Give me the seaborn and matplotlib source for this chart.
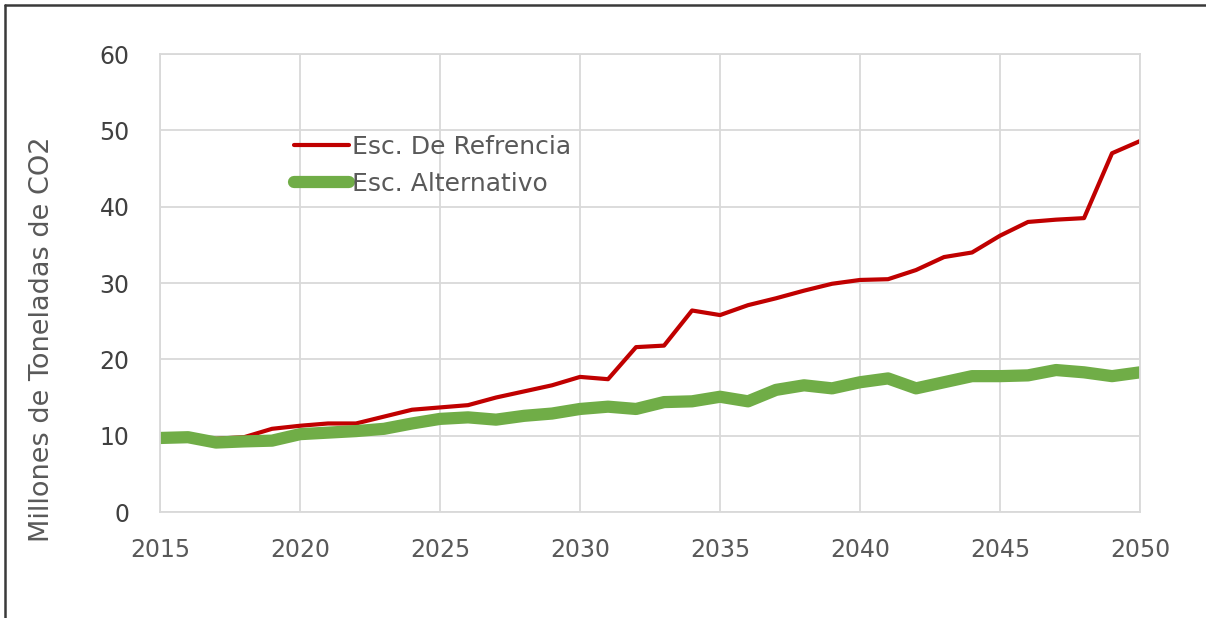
import matplotlib
matplotlib.use("Agg")
import matplotlib.pyplot as plt
import matplotlib.lines as mlines
import numpy as np
import pandas as pd
import seaborn as sns

#%%
# valores (millones de toneladas de CO2)
years = list(range(2015, 2051))
ref_vals = [9.7, 9.7, 9.6, 9.8, 10.9, 11.3, 11.6, 11.6, 12.5, 13.4,
            13.7, 14.0, 15.0, 15.8, 16.6, 17.7, 17.4, 21.6, 21.8, 26.4,
            25.8, 27.1, 28.0, 29.0, 29.9, 30.4, 30.5, 31.7, 33.4, 34.0,
            36.2, 38.0, 38.3, 38.5, 47.0, 48.6]
alt_vals = [9.7, 9.8, 9.1, 9.25, 9.35, 10.2, 10.4, 10.6, 10.9, 11.6,
            12.2, 12.4, 12.1, 12.6, 12.9, 13.5, 13.8, 13.5, 14.4, 14.5,
            15.1, 14.5, 16.0, 16.6, 16.2, 17.0, 17.5, 16.2, 17.0, 17.8,
            17.8, 17.9, 18.6, 18.3, 17.8, 18.3]
series_names = ['Esc. De Refrencia', 'Esc. Alternativo']
colors = ['#C00000', '#70AD47']

df = pd.DataFrame({'year': years, series_names[0]: ref_vals, series_names[1]: alt_vals})

#%%
sns.set_theme(style="whitegrid")
plt.rcParams['font.family'] = ['DejaVu Sans']
grid_col = '#d9d9d9'
txt_col = '#595959'

fig = plt.figure(figsize=(12.06, 6.18), dpi=100)
ax = fig.add_axes([0.1327, 0.1715, 0.8126, 0.7411])

sns.lineplot(ax=ax, data=df, x='year', y=series_names[0], color=colors[0],
             linewidth=3.0, label=series_names[0])
sns.lineplot(ax=ax, data=df, x='year', y=series_names[1], color=colors[1],
             linewidth=8.8, label=series_names[1], solid_capstyle='round')

ax.set_xlim(2015, 2050)
ax.set_ylim(0, 60)
ax.set_xticks(range(2015, 2051, 5))
ax.set_yticks(range(0, 61, 10))
ax.set_xlabel('')
ax.set_ylabel('')
ax.grid(True, color=grid_col, linewidth=1.3)
for sp in ax.spines.values():
    sp.set_color(grid_col)
    sp.set_linewidth(1.3)
ax.tick_params(axis='x', labelsize=17, colors=txt_col, pad=19, length=0)
ax.tick_params(axis='y', labelsize=17, colors='#404040', pad=22, length=0)

fig.text(42/1206, 1-339/618, 'Millones de Toneladas de CO2', rotation=90,
         ha='center', va='center', fontsize=19.5, color=txt_col)

leg = ax.legend(loc='upper left', bbox_to_anchor=(0.124, 0.85), frameon=False,
                fontsize=18, handlelength=2.2, handletextpad=0.1,
                labelspacing=0.5, borderpad=0)
for t in leg.get_texts():
    t.set_color(txt_col)

# marco exterior
fig.add_artist(mlines.Line2D([5/1206, 1], [1-5/618, 1-5/618], color='#3a3a3a', lw=1.8))
fig.add_artist(mlines.Line2D([5/1206, 5/1206], [0, 1-5/618], color='#3a3a3a', lw=1.8))

plt.savefig('out.png', dpi=100)
